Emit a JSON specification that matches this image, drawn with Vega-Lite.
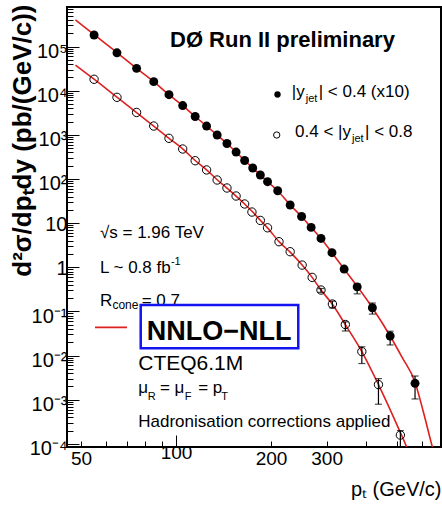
{
  "$schema": "https://vega.github.io/schema/vega-lite/v6.json",
  "width": 374,
  "height": 440,
  "autosize": {"type": "none"},
  "padding": {"left": 67, "top": 7, "right": 1, "bottom": 59},
  "background": "white",
  "config": {
    "view": {"stroke": "black", "strokeWidth": 2},
    "font": "Liberation Sans",
    "text": {"font": "Liberation Sans"}
  },
  "datasets": {
    "curves": [
      {"s": "a", "pt": 48, "v": 400000}, {"s": "a", "pt": 55, "v": 185000}, {"s": "a", "pt": 65, "v": 73000},
      {"s": "a", "pt": 75, "v": 32000}, {"s": "a", "pt": 85, "v": 16000}, {"s": "a", "pt": 95, "v": 8100},
      {"s": "a", "pt": 105, "v": 4600}, {"s": "a", "pt": 115, "v": 2600}, {"s": "a", "pt": 125, "v": 1580},
      {"s": "a", "pt": 135, "v": 990}, {"s": "a", "pt": 145, "v": 635}, {"s": "a", "pt": 155, "v": 407},
      {"s": "a", "pt": 165, "v": 262}, {"s": "a", "pt": 175, "v": 177}, {"s": "a", "pt": 185, "v": 123},
      {"s": "a", "pt": 195, "v": 86.7}, {"s": "a", "pt": 210, "v": 54}, {"s": "a", "pt": 230, "v": 25.7},
      {"s": "a", "pt": 250, "v": 14.1}, {"s": "a", "pt": 268, "v": 8.0}, {"s": "a", "pt": 288, "v": 4.5},
      {"s": "a", "pt": 312, "v": 2.14}, {"s": "a", "pt": 341, "v": 0.91}, {"s": "a", "pt": 375, "v": 0.37},
      {"s": "a", "pt": 419, "v": 0.121}, {"s": "a", "pt": 477, "v": 0.0277}, {"s": "a", "pt": 520, "v": 0.0092},
      {"s": "a", "pt": 572, "v": 0.0025}, {"s": "a", "pt": 610, "v": 0.00048}, {"s": "a", "pt": 649, "v": 0.000085},
      {"s": "a", "pt": 670, "v": 0.000037},
      {"s": "b", "pt": 48, "v": 38000}, {"s": "b", "pt": 55, "v": 18200}, {"s": "b", "pt": 65, "v": 7100},
      {"s": "b", "pt": 75, "v": 3200}, {"s": "b", "pt": 85, "v": 1580}, {"s": "b", "pt": 95, "v": 835},
      {"s": "b", "pt": 105, "v": 480}, {"s": "b", "pt": 115, "v": 262}, {"s": "b", "pt": 125, "v": 160},
      {"s": "b", "pt": 135, "v": 96}, {"s": "b", "pt": 145, "v": 62}, {"s": "b", "pt": 155, "v": 41},
      {"s": "b", "pt": 165, "v": 27.1}, {"s": "b", "pt": 175, "v": 17.8}, {"s": "b", "pt": 185, "v": 11.6},
      {"s": "b", "pt": 195, "v": 7.8}, {"s": "b", "pt": 212, "v": 3.8}, {"s": "b", "pt": 230, "v": 2.2},
      {"s": "b", "pt": 251, "v": 1.12}, {"s": "b", "pt": 270, "v": 0.59}, {"s": "b", "pt": 288, "v": 0.305},
      {"s": "b", "pt": 313, "v": 0.145}, {"s": "b", "pt": 344, "v": 0.05}, {"s": "b", "pt": 388, "v": 0.0123},
      {"s": "b", "pt": 438, "v": 0.0022}, {"s": "b", "pt": 514, "v": 0.00018}, {"s": "b", "pt": 538, "v": 0.000085},
      {"s": "b", "pt": 560, "v": 0.000037}
    ],
    "points": [
      {"s": "a", "pt": 55, "xs": 182000}, {"s": "a", "pt": 65, "xs": 72000}, {"s": "a", "pt": 75, "xs": 32000},
      {"s": "a", "pt": 85, "xs": 16000}, {"s": "a", "pt": 95, "xs": 8100}, {"s": "a", "pt": 105, "xs": 4600},
      {"s": "a", "pt": 115, "xs": 2600}, {"s": "a", "pt": 125, "xs": 1580}, {"s": "a", "pt": 135, "xs": 990},
      {"s": "a", "pt": 145, "xs": 635}, {"s": "a", "pt": 155, "xs": 407}, {"s": "a", "pt": 165, "xs": 262},
      {"s": "a", "pt": 175, "xs": 177}, {"s": "a", "pt": 185, "xs": 123}, {"s": "a", "pt": 195, "xs": 86.7},
      {"s": "a", "pt": 210, "xs": 54}, {"s": "a", "pt": 230, "xs": 25.7}, {"s": "a", "pt": 250, "xs": 14.1},
      {"s": "a", "pt": 268, "xs": 8.0}, {"s": "a", "pt": 288, "xs": 4.5}, {"s": "a", "pt": 312, "xs": 2.14},
      {"s": "a", "pt": 341, "xs": 0.91, "lo": 0.8, "hi": 1.0}, {"s": "a", "pt": 375, "xs": 0.36, "lo": 0.25, "hi": 0.42},
      {"s": "a", "pt": 419, "xs": 0.121, "lo": 0.087, "hi": 0.155}, {"s": "a", "pt": 477, "xs": 0.0277, "lo": 0.0174, "hi": 0.0356},
      {"s": "a", "pt": 572, "xs": 0.00235, "lo": 0.00104, "hi": 0.00344},
      {"s": "b", "pt": 55, "xs": 18100}, {"s": "b", "pt": 65, "xs": 7070}, {"s": "b", "pt": 75, "xs": 3210},
      {"s": "b", "pt": 85, "xs": 1580}, {"s": "b", "pt": 95, "xs": 833}, {"s": "b", "pt": 105, "xs": 477},
      {"s": "b", "pt": 115, "xs": 259}, {"s": "b", "pt": 125, "xs": 160}, {"s": "b", "pt": 135, "xs": 94.7},
      {"s": "b", "pt": 145, "xs": 62.4}, {"s": "b", "pt": 155, "xs": 41.1}, {"s": "b", "pt": 165, "xs": 27.1},
      {"s": "b", "pt": 174, "xs": 17.8}, {"s": "b", "pt": 185, "xs": 11.5}, {"s": "b", "pt": 195, "xs": 7.83},
      {"s": "b", "pt": 212, "xs": 3.79}, {"s": "b", "pt": 230, "xs": 2.25}, {"s": "b", "pt": 251, "xs": 1.12},
      {"s": "b", "pt": 270, "xs": 0.59}, {"s": "b", "pt": 288, "xs": 0.305, "lo": 0.27, "hi": 0.33},
      {"s": "b", "pt": 313, "xs": 0.147, "lo": 0.12, "hi": 0.17}, {"s": "b", "pt": 344, "xs": 0.0505, "lo": 0.036, "hi": 0.058},
      {"s": "b", "pt": 388, "xs": 0.0123, "lo": 0.0066, "hi": 0.0158}, {"s": "b", "pt": 438, "xs": 0.0022, "lo": 0.00079, "hi": 0.003},
      {"s": "b", "pt": 514, "xs": 0.000158, "lo": 0.00005, "hi": 0.0002}
    ]
  },
  "layer": [
    {
      "data": {"name": "curves"},
      "mark": {"type": "line", "color": "#dd2020", "strokeWidth": 1.6, "interpolate": "monotone", "clip": true},
      "encoding": {
        "x": {
          "field": "pt", "type": "quantitative",
          "scale": {"type": "log", "domain": [45.14, 691.3], "nice": false},
          "axis": {
            "title": "pₜ (GeV/c)",
            "values": [50, 60, 70, 80, 90, 100, 200, 300, 400, 500, 600],
            "labelExpr": "indexof([50,100,200,300], datum.value) >= 0 ? datum.label : ''",
            "tickSize": {"condition": {"test": "datum.value == 100", "value": -12}, "value": -6},
            "tickColor": "black", "tickWidth": 1,
            "domain": false, "grid": false,
            "labelFont": "Liberation Sans", "labelFontSize": 19, "labelColor": "black", "labelPadding": 8,
            "labelFlush": false, "labelOverlap": false,
            "titleFont": "Liberation Sans", "titleFontSize": 20, "titleFontWeight": "normal", "titleColor": "black",
            "titleAnchor": "end", "titleAlign": "right", "titleX": 374, "titleY": 48, "titleBaseline": "alphabetic"
          }
        },
        "y": {
          "field": "v", "type": "quantitative",
          "scale": {"type": "log", "domain": [0.0000849, 785000], "nice": false},
          "axis": {
            "title": "d²σ/dpₜdy (pb/(GeV/c))",
            "values": [0.00009, 0.0001, 0.0002, 0.0003, 0.0004, 0.0005, 0.0006, 0.0007, 0.0008, 0.0009,
                       0.001, 0.002, 0.003, 0.004, 0.005, 0.006, 0.007, 0.008, 0.009,
                       0.01, 0.02, 0.03, 0.04, 0.05, 0.06, 0.07, 0.08, 0.09,
                       0.1, 0.2, 0.3, 0.4, 0.5, 0.6, 0.7, 0.8, 0.9,
                       1, 2, 3, 4, 5, 6, 7, 8, 9, 10, 20, 30, 40, 50, 60, 70, 80, 90,
                       100, 200, 300, 400, 500, 600, 700, 800, 900,
                       1000, 2000, 3000, 4000, 5000, 6000, 7000, 8000, 9000,
                       10000, 20000, 30000, 40000, 50000, 60000, 70000, 80000, 90000,
                       100000, 200000, 300000, 400000, 500000, 600000, 700000],
            "labelExpr": "datum.value==100000?'10⁵':datum.value==10000?'10⁴':datum.value==1000?'10³':datum.value==100?'10²':datum.value==10?'10':datum.value==1?'1':datum.value==0.1?'10⁻¹':datum.value==0.01?'10⁻²':datum.value==0.001?'10⁻³':datum.value==0.0001?'10⁻⁴':''",
            "tickSize": {"condition": {"test": "indexof([100000,10000,1000,100,10,1,0.1,0.01,0.001,0.0001], datum.value) >= 0", "value": -12}, "value": -6},
            "tickColor": "black", "tickWidth": 1,
            "domain": false, "grid": false,
            "labelFont": "Liberation Sans", "labelFontSize": 20, "labelColor": "black", "labelPadding": 12,
            "labelOffset": {"condition": {"test": "datum.value == 10 || datum.value == 1", "value": 1}, "value": 5},
            "labelFlush": false, "labelOverlap": false, "labelBaseline": "middle",
            "titleFont": "Liberation Sans", "titleFontSize": 26, "titleFontWeight": "bold", "titleColor": "black",
            "titleAngle": -90, "titleAlign": "right", "titleBaseline": "alphabetic", "titleX": -37, "titleY": -3
          }
        },
        "detail": {"field": "s"}
      }
    },
    {
      "data": {"name": "points"},
      "transform": [{"filter": "datum.lo != null"}],
      "mark": {"type": "rule", "color": "black", "strokeWidth": 1.2, "clip": true},
      "encoding": {"x": {"field": "pt", "type": "quantitative"}, "y": {"field": "lo", "type": "quantitative"}, "y2": {"field": "hi"}}
    },
    {
      "data": {"name": "points"},
      "transform": [{"filter": "datum.lo != null"}],
      "mark": {"type": "tick", "orient": "horizontal", "size": 7, "thickness": 1.2, "color": "black", "clip": true},
      "encoding": {"x": {"field": "pt", "type": "quantitative"}, "y": {"field": "lo", "type": "quantitative"}}
    },
    {
      "data": {"name": "points"},
      "transform": [{"filter": "datum.lo != null"}],
      "mark": {"type": "tick", "orient": "horizontal", "size": 7, "thickness": 1.2, "color": "black"},
      "encoding": {"x": {"field": "pt", "type": "quantitative"}, "y": {"field": "hi", "type": "quantitative"}}
    },
    {
      "data": {"name": "points"},
      "transform": [{"filter": "datum.s == 'a'"}],
      "mark": {"type": "point", "shape": "circle", "filled": true, "color": "black", "opacity": 1, "size": 80},
      "encoding": {"x": {"field": "pt", "type": "quantitative"}, "y": {"field": "xs", "type": "quantitative"}}
    },
    {
      "data": {"name": "points"},
      "transform": [{"filter": "datum.s == 'b'"}],
      "mark": {"type": "point", "shape": "circle", "filled": false, "stroke": "black", "strokeWidth": 1, "opacity": 1, "size": 70},
      "encoding": {"x": {"field": "pt", "type": "quantitative"}, "y": {"field": "xs", "type": "quantitative"}}
    },
    {
      "data": {"values": [{}]},
      "mark": {"type": "text", "text": "DØ Run II preliminary", "align": "left", "baseline": "alphabetic", "fontWeight": "bold", "fontSize": 22, "color": "black"},
      "encoding": {"x": {"datum": 95.7}, "y": {"datum": 99000}}
    },
    {
      "data": {"values": [{}]},
      "mark": {"type": "point", "shape": "circle", "filled": true, "color": "black", "opacity": 1, "size": 40},
      "encoding": {"x": {"datum": 209.7}, "y": {"datum": 8185}}
    },
    {
      "data": {"values": [{}]},
      "mark": {"type": "point", "shape": "circle", "filled": false, "stroke": "black", "strokeWidth": 1, "opacity": 1, "size": 40},
      "encoding": {"x": {"datum": 208.5}, "y": {"datum": 989}}
    },
    {
      "data": {"values": [{}]},
      "mark": {"type": "text", "text": "|y", "align": "left", "baseline": "alphabetic", "fontSize": 17, "color": "black"},
      "encoding": {"x": {"datum": 232.6}, "y": {"datum": 7295}}
    },
    {
      "data": {"values": [{}]},
      "mark": {"type": "text", "text": "jet", "align": "left", "baseline": "alphabetic", "fontSize": 11, "dx": 14, "dy": 5, "color": "black"},
      "encoding": {"x": {"datum": 232.6}, "y": {"datum": 7295}}
    },
    {
      "data": {"values": [{}]},
      "mark": {"type": "text", "text": "| < 0.4 (x10)", "align": "left", "baseline": "alphabetic", "fontSize": 17, "dx": 27, "color": "black"},
      "encoding": {"x": {"datum": 232.6}, "y": {"datum": 7295}}
    },
    {
      "data": {"values": [{}]},
      "mark": {"type": "text", "text": "0.4 < |y", "align": "left", "baseline": "alphabetic", "fontSize": 17, "color": "black"},
      "encoding": {"x": {"datum": 238.3}, "y": {"datum": 905}}
    },
    {
      "data": {"values": [{}]},
      "mark": {"type": "text", "text": "jet", "align": "left", "baseline": "alphabetic", "fontSize": 11, "dx": 57, "dy": 5, "color": "black"},
      "encoding": {"x": {"datum": 238.3}, "y": {"datum": 905}}
    },
    {
      "data": {"values": [{}]},
      "mark": {"type": "text", "text": "| < 0.8", "align": "left", "baseline": "alphabetic", "fontSize": 17, "dx": 70, "color": "black"},
      "encoding": {"x": {"datum": 238.3}, "y": {"datum": 905}}
    },
    {
      "data": {"values": [{}]},
      "mark": {"type": "text", "text": "√s = 1.96 TeV", "align": "left", "baseline": "alphabetic", "fontSize": 17, "color": "black"},
      "encoding": {"x": {"datum": 57.4}, "y": {"datum": 4.6}}
    },
    {
      "data": {"values": [{}]},
      "mark": {"type": "text", "text": "L ~ 0.8 fb", "align": "left", "baseline": "alphabetic", "fontSize": 17, "color": "black"},
      "encoding": {"x": {"datum": 57.4}, "y": {"datum": 0.741}}
    },
    {
      "data": {"values": [{}]},
      "mark": {"type": "text", "text": "-1", "align": "left", "baseline": "alphabetic", "fontSize": 11, "dx": 71, "dy": -8, "color": "black"},
      "encoding": {"x": {"datum": 57.4}, "y": {"datum": 0.741}}
    },
    {
      "data": {"values": [{}]},
      "mark": {"type": "text", "text": "R", "align": "left", "baseline": "alphabetic", "fontSize": 17, "color": "black"},
      "encoding": {"x": {"datum": 57.4}, "y": {"datum": 0.1325}}
    },
    {
      "data": {"values": [{}]},
      "mark": {"type": "text", "text": "cone", "align": "left", "baseline": "alphabetic", "fontSize": 12, "dx": 12.5, "dy": 3, "color": "black"},
      "encoding": {"x": {"datum": 57.4}, "y": {"datum": 0.1325}}
    },
    {
      "data": {"values": [{}]},
      "mark": {"type": "text", "text": "= 0.7", "align": "left", "baseline": "alphabetic", "fontSize": 17, "dx": 41.7, "color": "black"},
      "encoding": {"x": {"datum": 57.4}, "y": {"datum": 0.1325}}
    },
    {
      "data": {"values": [{}]},
      "mark": {"type": "text", "text": "NNLO-NLL", "align": "left", "baseline": "alphabetic", "fontSize": 22, "color": "black"},
      "encoding": {"x": {"datum": 75.9}, "y": {"datum": 0.025}}
    },
    {
      "data": {"values": [{}]},
      "mark": {"type": "rect", "fill": "white", "stroke": "#1414f0", "strokeWidth": 2.5},
      "encoding": {"x": {"datum": 77.3}, "x2": {"datum": 244}, "y": {"datum": 0.1396}, "y2": {"datum": 0.01459}}
    },
    {
      "data": {"values": [{}]},
      "mark": {"type": "text", "text": "NNLO−NLL", "align": "left", "baseline": "alphabetic", "fontSize": 27, "fontWeight": "bold", "color": "black"},
      "encoding": {"x": {"datum": 80.8}, "y": {"datum": 0.0225}}
    },
    {
      "data": {"values": [{}]},
      "mark": {"type": "rule", "color": "#dd2020", "strokeWidth": 1.6},
      "encoding": {"x": {"datum": 55.37}, "x2": {"datum": 69.94}, "y": {"datum": 0.0436}}
    },
    {
      "data": {"values": [{}]},
      "mark": {"type": "text", "text": "CTEQ6.1M", "align": "left", "baseline": "alphabetic", "fontSize": 21, "color": "black"},
      "encoding": {"x": {"datum": 75.9}, "y": {"datum": 0.00471}}
    },
    {
      "data": {"values": [{}]},
      "mark": {"type": "text", "text": "μ", "align": "left", "baseline": "alphabetic", "fontSize": 17, "color": "black"},
      "encoding": {"x": {"datum": 75.9}, "y": {"datum": 0.00142}}
    },
    {
      "data": {"values": [{}]},
      "mark": {"type": "text", "text": "R", "align": "left", "baseline": "alphabetic", "fontSize": 11, "dx": 9.5, "dy": 7, "color": "black"},
      "encoding": {"x": {"datum": 75.9}, "y": {"datum": 0.00142}}
    },
    {
      "data": {"values": [{}]},
      "mark": {"type": "text", "text": "= μ", "align": "left", "baseline": "alphabetic", "fontSize": 17, "dx": 21.7, "color": "black"},
      "encoding": {"x": {"datum": 75.9}, "y": {"datum": 0.00142}}
    },
    {
      "data": {"values": [{}]},
      "mark": {"type": "text", "text": "F", "align": "left", "baseline": "alphabetic", "fontSize": 11, "dx": 46.5, "dy": 7, "color": "black"},
      "encoding": {"x": {"datum": 75.9}, "y": {"datum": 0.00142}}
    },
    {
      "data": {"values": [{}]},
      "mark": {"type": "text", "text": "= p", "align": "left", "baseline": "alphabetic", "fontSize": 17, "dx": 60, "color": "black"},
      "encoding": {"x": {"datum": 75.9}, "y": {"datum": 0.00142}}
    },
    {
      "data": {"values": [{}]},
      "mark": {"type": "text", "text": "T", "align": "left", "baseline": "alphabetic", "fontSize": 11, "dx": 83, "dy": 7, "color": "black"},
      "encoding": {"x": {"datum": 75.9}, "y": {"datum": 0.00142}}
    },
    {
      "data": {"values": [{}]},
      "mark": {"type": "text", "text": "Hadronisation corrections applied", "align": "left", "baseline": "alphabetic", "fontSize": 17, "color": "black"},
      "encoding": {"x": {"datum": 75.9}, "y": {"datum": 0.000244}}
    }
  ]
}
